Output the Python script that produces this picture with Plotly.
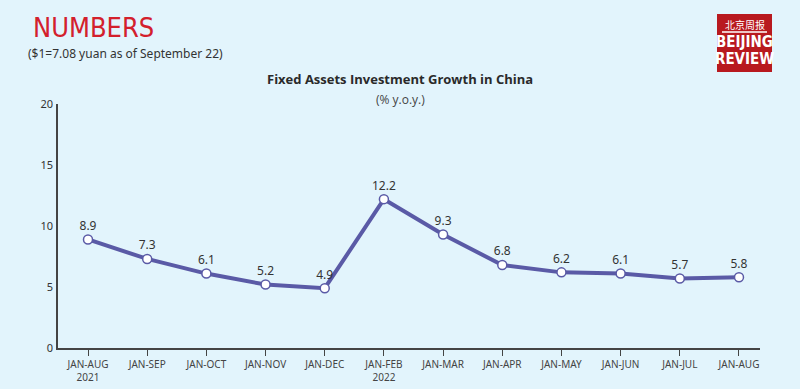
import plotly.graph_objects as go

categories = ["JAN-AUG<br>2021", "JAN-SEP", "JAN-OCT", "JAN-NOV", "JAN-DEC", "JAN-FEB<br>2022",
              "JAN-MAR", "JAN-APR", "JAN-MAY", "JAN-JUN", "JAN-JUL", "JAN-AUG"]
values = [8.9, 7.3, 6.1, 5.2, 4.9, 12.2, 9.3, 6.8, 6.2, 6.1, 5.7, 5.8]
y_ticks = [0, 5, 10, 15, 20]

BG = "#e2f4fc"
LINE = "#5a5aa6"
TXT = "#333333"
FONT = "Noto Sans"

L, R, T, B = 58, 40, 104, 41
W, H = 800, 389
PW, PH = W - L - R, H - T - B

x_idx = list(range(len(categories)))

fig = go.Figure()
fig.add_trace(go.Scatter(
    x=x_idx, y=values, mode="lines+markers+text",
    text=[f"{v:.1f}" for v in values], textposition="top center",
    textfont=dict(family=FONT, size=12, color=TXT),
    line=dict(color=LINE, width=4),
    marker=dict(size=9, color="white", line=dict(color=LINE, width=1.5)),
    cliponaxis=False, hoverinfo="skip", showlegend=False,
))

fig.update_layout(
    width=W, height=H,
    margin=dict(l=L, r=R, t=T, b=B, autoexpand=False),
    paper_bgcolor=BG, plot_bgcolor=BG,
    font=dict(family=FONT, color=TXT),
    xaxis=dict(
        range=[-0.507, 11.355], tickmode="array", tickvals=x_idx, ticktext=categories,
        showgrid=False, zeroline=False, showline=True, linecolor="#444444", linewidth=1.5,
        ticks="outside", ticklen=6, tickcolor="#444444", tickwidth=1.2, automargin=False,
        tickfont=dict(family=FONT, size=10, color="#444444"),
    ),
    yaxis=dict(
        range=[0, 20], tickvals=y_ticks, showgrid=False, zeroline=False, automargin=False,
        showline=True, linecolor="#444444", linewidth=1.5, ticks="",
        tickfont=dict(family=FONT, size=11, color=TXT), ticklabelstandoff=1,
    ),
)


def px2paper(x, y):
    return (x - L) / PW, 1 - (y - T) / PH


anns = [
    dict(text="NUMBERS", x=32, y=44, xanchor="left", yanchor="bottom", borderpad=0,
         font=dict(family="DejaVu Sans Condensed", size=27, color="#d3202c")),
    dict(text="($1=7.08 yuan as of September 22)", x=27, y=44.5, xanchor="left", yanchor="top", borderpad=0,
         font=dict(family=FONT, size=12, color=TXT)),
    dict(text="<b>Fixed Assets Investment Growth in China</b>", x=400, y=68, xanchor="center", yanchor="top",
         font=dict(family="Open Sans", size=13, color="#2a2a2a")),
    dict(text="(% y.o.y.)", x=400, y=89, xanchor="center", yanchor="top",
         font=dict(family="Open Sans", size=12, color="#444444")),
    dict(text="北京周报", x=744.5, y=15, xanchor="center", yanchor="top",
         font=dict(family="Noto Sans CJK SC", size=10, color="white")),
    dict(text="<b>BEIJING</b>", x=744.5, y=31, xanchor="center", yanchor="top",
         font=dict(family="DejaVu Sans Condensed", size=15, color="white")),
    dict(text="<b>REVIEW</b>", x=744.5, y=48, xanchor="center", yanchor="top",
         font=dict(family="DejaVu Sans Condensed", size=15, color="white")),
]
for a in anns:
    a["x"], a["y"] = px2paper(a["x"], a["y"])
    fig.add_annotation(xref="paper", yref="paper", showarrow=False, **a)

x0, y0 = px2paper(717, 14)
x1, y1 = px2paper(772, 72)
fig.add_shape(type="rect", xref="paper", yref="paper", x0=x0, y0=y0, x1=x1, y1=y1,
              fillcolor="#b8191f", line=dict(width=0), layer="above")
lx0, ly = px2paper(722, 32)
lx1, _ = px2paper(767, 32)
fig.add_shape(type="line", xref="paper", yref="paper", x0=lx0, y0=ly, x1=lx1, y1=ly,
              line=dict(color="white", width=1.5))

fig.write_html("out.html", config={"displayModeBar": False},
               post_script="document.body.style.margin='0';document.body.style.padding='0';")
